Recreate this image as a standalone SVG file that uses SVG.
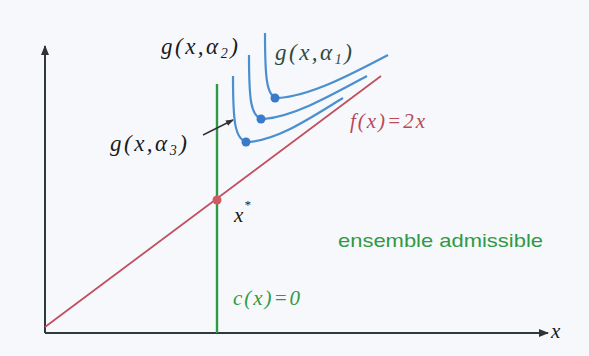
<svg xmlns="http://www.w3.org/2000/svg" width="589" height="356" viewBox="0 0 589 356">
<defs>
<marker id="ah" markerWidth="10" markerHeight="8" refX="9" refY="4" orient="auto" markerUnits="userSpaceOnUse">
<path d="M0,0 L10,4 L0,8 z" fill="#333"/>
</marker>
<marker id="ah2" markerWidth="8" markerHeight="6" refX="7" refY="3" orient="auto" markerUnits="userSpaceOnUse">
<path d="M0,0 L8,3 L0,6 z" fill="#333"/>
</marker>
</defs>
<style>
.ax{stroke:#2f3a3a;stroke-width:2;fill:none}
.blue{stroke:#4a8fd0;stroke-width:2.2;fill:none}
.dot{fill:#3a7ac8}
</style>
<rect width="589" height="356" fill="#f7f8fc"/>
<g id="axes">
<line class="ax" x1="45" y1="333" x2="548" y2="333" marker-end="url(#ah)"/>
<line class="ax" x1="45" y1="333" x2="45" y2="46" marker-end="url(#ah)"/>
<text x="551" y="338" font-family="Liberation Serif, serif" font-style="italic" font-size="21" fill="#1a1a1a">x</text>
</g>
<g id="connectors">
<line x1="45" y1="327" x2="381" y2="76" stroke="#c05060" stroke-width="1.8"/>
<line x1="217" y1="84" x2="217" y2="333" stroke="#2e9a44" stroke-width="2.4"/>
<line x1="203" y1="135" x2="233" y2="120" stroke="#333" stroke-width="1.5" marker-end="url(#ah2)"/>
</g>
<g id="curve1">
<path class="blue" d="M265,33 C265,75 266,98 278,98 C310,96 350,75 388,55"/>
<circle class="dot" cx="275" cy="98" r="4.5"/>
</g>
<g id="curve2">
<path class="blue" d="M249,55 C249,97 250,119 264,119 C295,116 330,96 367,76"/>
<circle class="dot" cx="261" cy="119" r="4.5"/>
</g>
<g id="curve3">
<path class="blue" d="M233,76 C233,119 234,142 249,142 C280,139 310,118 343,98"/>
<circle class="dot" cx="246" cy="142" r="4.5"/>
</g>
<g id="xstar" font-family="Liberation Serif, serif" font-style="italic" fill="#1a1a1a">
<circle cx="217" cy="200" r="4.5" fill="#d05a60"/>
<text x="234" y="222" font-size="21">x</text>
<text x="244" y="209" font-size="13">*</text>
</g>
<g id="labels" font-family="Liberation Serif, serif" font-style="italic" fill="#1a1a1a">
<text x="161" y="54" font-size="23" letter-spacing="2.5">g(x,α<tspan font-size="14" dy="4">2</tspan><tspan dy="-4">)</tspan></text>
<text x="275" y="60" font-size="23" letter-spacing="2.5" fill="#2f4a3c">g(x,α<tspan font-size="14" dy="4">1</tspan><tspan dy="-4">)</tspan></text>
<text x="110" y="151" font-size="23" letter-spacing="2.5">g(x,α<tspan font-size="14" dy="4">3</tspan><tspan dy="-4">)</tspan></text>
<text x="350" y="128" font-size="21" fill="#b84a5a" textLength="75" lengthAdjust="spacing">f(x)=2x</text>
<text x="233" y="305" font-size="21" fill="#2e9a44" textLength="67" lengthAdjust="spacing">c(x)=0</text>
<text x="338" y="247" font-family="Liberation Sans, sans-serif" font-style="normal" font-size="19" fill="#2e9a44" textLength="205" lengthAdjust="spacingAndGlyphs">ensemble admissible</text>
</g>
</svg>
